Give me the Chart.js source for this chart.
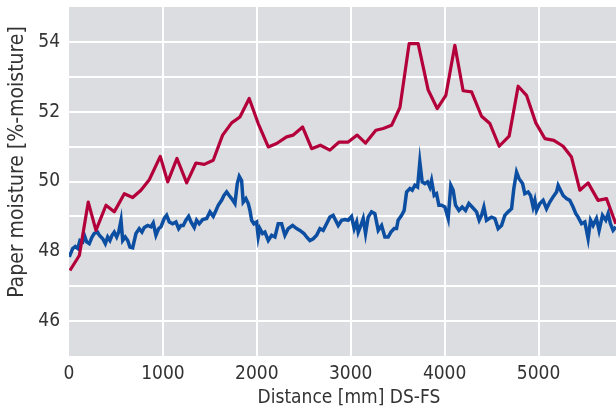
<!DOCTYPE html>
<html>
<head>
<meta charset="utf-8">
<script src="https://cdn.jsdelivr.net/npm/chart.js@4/dist/chart.umd.min.js"></script>
<style>
  html, body { margin: 0; padding: 0; background: #ffffff; }
  #wrap { width: 616px; height: 412px; position: relative; }
</style>
</head>
<body>
<div id="wrap"><canvas id="c" width="616" height="412"></canvas></div>
<script>
// ---- Data ----
const xTitle = "Distance [mm] DS-FS";
const yTitle = "Paper moisture [%-moisture]";
const xTickValues = [0, 1000, 2000, 3000, 4000, 5000];
const yTickLabels = [46, 48, 50, 52, 54];

const redDistance = [10,110,205,287,394,482,589,678,766,855,972,1051,1150,1253,1352,1440,1536,1636,1732,1820,1919,2015,2122,2211,2317,2388,2488,2584,2677,2778,2877,2973,3069,3158,3268,3346,3435,3524,3622,3718,3825,3921,4013,4109,4197,4287,4393,4482,4581,4687,4783,4872,4971,5067,5163,5262,5351,5440,5528,5634,5724,5823];
const redMoisture = [47.45,47.88,49.41,48.6,49.32,49.13,49.65,49.54,49.75,50.05,50.72,49.99,50.66,49.96,50.53,50.49,50.61,51.33,51.68,51.85,52.38,51.66,50.99,51.09,51.28,51.33,51.56,50.94,51.04,50.9,51.13,51.13,51.33,51.10,51.47,51.52,51.61,52.12,53.95,53.95,52.62,52.09,52.47,53.9,52.6,52.57,51.87,51.66,51.01,51.3,52.73,52.47,51.68,51.23,51.18,51.01,50.7,49.75,49.96,49.46,49.51,48.79];

const blueDistance = [3,39,67,93,117,146,163,188,216,245,269,305,323,359,387,412,436,458,482,508,529,554,572,599,625,649,678,713,748,777,802,838,873,897,926,955,979,1014,1040,1068,1104,1139,1168,1192,1217,1245,1274,1299,1334,1359,1387,1423,
  1466,1501,1536,1565,1589,1625,1650,1679,1706,1732,1767,1792,1813,1838,1855,1884,1909,1927,1945,1969,1998,2015,2033,2062,2086,2122,2158,2193,2228,2264,2299,2334,2381,2424,2459,2502,2530,2565,2601,2637,2672,2707,2743,2778,2813,
  2867,2903,2938,2973,3009,3037,3063,3080,3108,3133,3158,3186,3222,3257,3293,3329,3364,3399,3428,3463,3488,3505,3542,3569,3595,3630,3655,3683,3712,3736,3761,3790,3818,3843,3861,3889,3914,3939,3967,4003,4038,4066,4091,4116,4152,4187,4223,4258,4293,
  4340,4368,4393,4418,4446,4474,4500,4535,4570,4606,4641,4676,4713,4737,4766,4793,4830,4854,4889,4915,4942,4961,4979,5014,5049,5085,5120,5155,5192,5209,5234,5262,5298,5333,5368,5397,5422,5458,5493,5528,5554,5581,5617,5645,5681,5716,5741,5766,5794,5823];
const blueMoisture = [47.84,48.08,48.14,48.08,48.31,48.27,48.46,48.27,48.22,48.41,48.51,48.55,48.46,48.36,48.22,48.41,48.31,48.46,48.55,48.41,48.55,48.89,48.31,48.41,48.31,48.12,48.10,48.51,48.65,48.55,48.68,48.74,48.70,48.81,48.46,48.65,48.70,48.94,49.03,48.84,48.79,48.84,48.65,48.74,48.74,48.89,49.00,48.84,48.68,48.89,48.79,48.91,
  48.94,49.13,49.00,49.17,49.32,49.46,49.60,49.70,49.60,49.51,49.37,49.94,50.15,50.03,49.41,49.51,49.37,49.17,48.89,48.79,48.84,48.41,48.65,48.51,48.55,48.31,48.46,48.41,48.79,48.79,48.46,48.65,48.74,48.65,48.60,48.51,48.41,48.31,48.36,48.46,48.65,48.60,48.79,48.98,49.03,
  48.74,48.89,48.91,48.89,49.00,48.65,48.84,48.55,48.74,48.94,48.51,48.98,49.13,49.08,48.60,48.74,48.41,48.41,48.55,48.65,48.65,48.89,49.03,49.17,49.70,49.80,49.75,49.89,49.84,50.56,49.99,49.94,49.99,49.84,50.03,49.60,49.65,49.32,49.32,49.27,48.94,49.89,49.75,49.32,49.17,49.27,49.17,49.37,49.27,
  49.13,48.89,49.03,49.27,48.89,48.94,48.98,48.94,48.65,48.74,49.03,49.13,49.22,49.80,50.27,50.08,49.94,49.65,49.70,49.60,49.27,49.46,49.17,49.37,49.46,49.22,49.41,49.56,49.70,49.89,49.75,49.60,49.51,49.46,49.27,49.08,48.98,48.79,48.84,48.36,48.89,48.74,48.94,48.60,49.03,48.89,49.08,48.79,48.60,48.70];

// ---- Build chart ----
const toPoints = (xs, ys) => xs.map((x, i) => ({ x: x, y: ys[i] }));

const FONT = '"Liberation Sans Narrow", "DejaVu Sans Condensed", "Arial Narrow", sans-serif';
Chart.defaults.font.family = FONT;
Chart.defaults.color = '#333333';

const plotBg = {
  id: 'plotBg',
  beforeDraw(chart) {
    const { ctx, chartArea: a } = chart;
    ctx.save();
    ctx.fillStyle = '#dcdde0';
    ctx.fillRect(a.left, a.top, a.right - a.left, a.bottom - a.top);
    ctx.restore();
  }
};

// Axis titles, positioned as in the reference
const axisTitles = {
  id: 'axisTitles',
  afterDraw(chart) {
    const ctx = chart.ctx;
    ctx.save();
    ctx.fillStyle = '#333333';
    ctx.textAlign = 'center';
    ctx.textBaseline = 'middle';
    ctx.font = '19px ' + FONT;
    ctx.fillText(xTitle, 349, 398);
    ctx.font = '21px ' + FONT;
    ctx.translate(18, 162);
    ctx.rotate(-Math.PI / 2);
    ctx.fillText(yTitle, 0, 0);
    ctx.restore();
  }
};

new Chart(document.getElementById('c'), {
  type: 'line',
  data: {
    datasets: [
      { label: 'A', data: toPoints(redDistance, redMoisture), borderColor: '#b3003b', borderWidth: 3.2, pointRadius: 0, tension: 0, fill: false, borderJoinStyle: 'round' },
      { label: 'B', data: toPoints(blueDistance, blueMoisture), borderColor: '#0c4ea2', borderWidth: 3.5, pointRadius: 0, tension: 0, fill: false, borderJoinStyle: 'miter' }
    ]
  },
  options: {
    responsive: false,
    animation: false,
    devicePixelRatio: 1,
    layout: { padding: { top: 7, right: 0, left: 0, bottom: 0 } },
    plugins: { legend: { display: false }, tooltip: { enabled: false } },
    scales: {
      x: {
        type: 'linear',
        min: 0,
        max: 5825,
        afterBuildTicks: (s) => { s.ticks = xTickValues.map(v => ({ value: v })); },
        afterFit: (s) => { s.height = 56; s.paddingLeft = 0; s.paddingRight = 0; },
        border: { display: false },
        grid: {
          drawTicks: false,
          lineWidth: 2,
          color: (c) => (c.tick && c.tick.value === 0) ? 'rgba(0,0,0,0)' : '#ffffff'
        },
        ticks: {
          padding: 7,
          font: { size: 19 },
          maxRotation: 0,
          autoSkip: false,
          callback: (v) => String(v)
        }
      },
      y: {
        type: 'linear',
        min: 45,
        max: 55,
        afterBuildTicks: (s) => { const t = []; for (let v = 45; v <= 55; v++) t.push({ value: v }); s.ticks = t; },
        afterFit: (s) => { s.width = 69; s.paddingTop = 0; s.paddingBottom = 0; },
        border: { display: false },
        grid: {
          drawTicks: false,
          lineWidth: 2,
          color: (c) => (c.tick && (c.tick.value === 45 || c.tick.value === 55)) ? 'rgba(0,0,0,0)' : '#ffffff'
        },
        ticks: {
          padding: 9,
          font: { size: 19 },
          autoSkip: false,
          callback: (v) => yTickLabels.includes(v) ? String(v) : ''
        }
      }
    }
  },
  plugins: [plotBg, axisTitles]
});
</script>
</body>
</html>
